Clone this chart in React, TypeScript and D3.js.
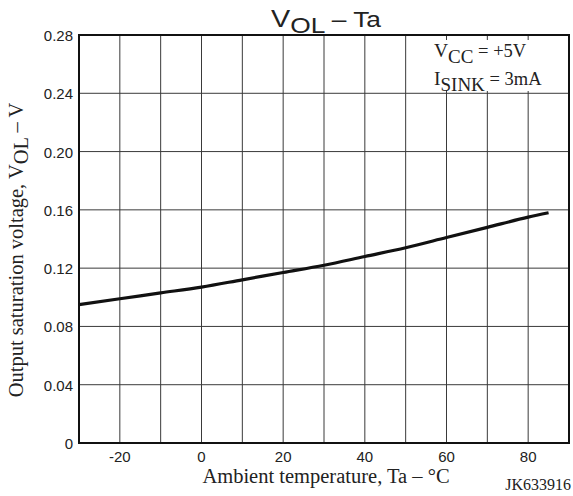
import * as React from "react";
import * as d3 from "d3";

const temps = [-30, -20, -10, 0, 10, 20, 30, 40, 50, 60, 70, 80, 85];
const vol = [0.095, 0.099, 0.103, 0.107, 0.112, 0.117, 0.122, 0.128, 0.134, 0.141, 0.148, 0.155, 0.158];
const xTicks = [-20, 0, 20, 40, 60, 80];
const yTicks = [0, 0.04, 0.08, 0.12, 0.16, 0.2, 0.24, 0.28];
const xGrid = d3.range(-20, 90, 10);

const W = 573;
const H = 496;
const left = 79;
const right = 569;
const top = 35;
const bottom = 443;

const serif = "'Liberation Serif', 'Times New Roman', serif";
const sans = "'Liberation Sans', Arial, sans-serif";

export default function App() {
  const x = d3.scaleLinear().domain([-30, 90]).range([left, right]);
  const y = d3.scaleLinear().domain([0, 0.28]).range([bottom, top]);
  const pts = temps.map((t, i) => [t, vol[i]] as [number, number]);
  const line = d3
    .line<[number, number]>()
    .x((d) => x(d[0]))
    .y((d) => y(d[1]))
    .curve(d3.curveMonotoneX);

  return (
    <svg
      width={W}
      height={H}
      style={{ position: "absolute", left: 0, top: 0, background: "#fff" }}
    >
      {/* grid */}
      {xGrid.map((t) => (
        <line key={"gx" + t} x1={x(t)} x2={x(t)} y1={top} y2={bottom} stroke="#3a3a3a" strokeWidth={1} />
      ))}
      {yTicks.slice(1, -1).map((v) => (
        <line key={"gy" + v} x1={left} x2={right} y1={y(v)} y2={y(v)} stroke="#3a3a3a" strokeWidth={1} />
      ))}
      {/* legend box hides the grid behind the conditions */}
      <rect x={411} y={40} width={right - 412} height={51} fill="#fff" />
      <rect x={left} y={top} width={right - left} height={bottom - top} fill="none" stroke="#111" strokeWidth={2} />

      {/* curve */}
      <path d={line(pts) ?? ""} fill="none" stroke="#111" strokeWidth={3.2} />

      {/* y tick labels */}
      {yTicks.map((v) => (
        <text key={"ty" + v} x={left - 6} y={y(v) + 6} textAnchor="end" fontFamily={sans} fontSize={15} fill="#222">
          {v === 0 ? "0" : d3.format(".2f")(v)}
        </text>
      ))}
      {/* x tick labels */}
      {xTicks.map((t) => (
        <text key={"tx" + t} x={x(t)} y={bottom + 19} textAnchor="middle" fontFamily={sans} fontSize={15} fill="#222">
          {t}
        </text>
      ))}

      {/* title */}
      <text
        x={326}
        y={27}
        textAnchor="middle"
        fontFamily={sans}
        fontSize={22}
        fill="#222"
        textLength={110}
        lengthAdjust="spacingAndGlyphs"
      >
        <tspan fontSize={24}>V</tspan>
        <tspan dy={6}>OL</tspan>
        <tspan dy={-6}> – Ta</tspan>
      </text>

      {/* legend */}
      <text x={434} y={57} fontFamily={serif} fontSize={19.5} fill="#222">
        V<tspan dy={6} fontSize={19}>CC</tspan>
        <tspan dy={-6} fontSize={18.5}> = +5V</tspan>
      </text>
      <text x={434} y={85} fontFamily={serif} fontSize={19.5} fill="#222">
        I<tspan dy={6} fontSize={19}>SINK</tspan>
        <tspan dy={-6} fontSize={18.5}> = 3mA</tspan>
      </text>

      {/* axis titles */}
      <text x={326} y={483} textAnchor="middle" fontFamily={serif} fontSize={20.5} fill="#222">
        Ambient temperature, Ta – °C
      </text>
      <text transform="translate(23,250) rotate(-90)" textAnchor="middle" fontFamily={serif} fontSize={20.5} fill="#222">
        Output saturation voltage, V<tspan dy={5}>OL</tspan>
        <tspan dy={-5}> – V</tspan>
      </text>
      <text x={571} y={490} textAnchor="end" fontFamily={serif} fontSize={16} fill="#222">
        JK633916
      </text>
    </svg>
  );
}
